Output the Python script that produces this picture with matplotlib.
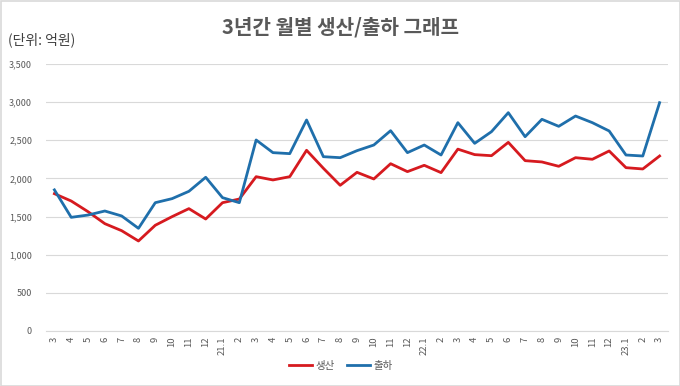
import matplotlib
matplotlib.use("Agg")
import matplotlib.pyplot as plt
from matplotlib.patches import Rectangle

plt.rcParams['font.family'] = ['Noto Sans CJK KR', 'DejaVu Sans']

labels = ["3", "4", "5", "6", "7", "8", "9", "10", "11", "12",
          "21.1", "2", "3", "4", "5", "6", "7", "8", "9", "10", "11", "12",
          "22.1", "2", "3", "4", "5", "6", "7", "8", "9", "10", "11", "12",
          "23.1", "2", "3"]
production = [1800, 1704, 1564, 1407, 1315, 1180, 1386, 1499, 1604, 1468,
              1682, 1730, 2023, 1980, 2023, 2369, 2133, 1910, 2080, 1993,
              2193, 2089, 2172, 2076, 2384, 2312, 2298, 2473, 2233, 2216,
              2159, 2272, 2251, 2360, 2141, 2124, 2294]
shipment = [1850, 1490, 1520, 1573, 1508, 1346, 1682, 1735, 1831, 2015,
            1748, 1682, 2504, 2338, 2325, 2766, 2285, 2272, 2364, 2438,
            2626, 2338, 2438, 2307, 2731, 2460, 2613, 2862, 2547, 2775,
            2683, 2818, 2731, 2622, 2307, 2294, 2993]
yticks = [0, 500, 1000, 1500, 2000, 2500, 3000, 3500]

RED = "#D61A1F"
BLUE = "#1F6FAB"
TXT = "#595959"

fig = plt.figure(figsize=(6.8, 3.86), dpi=100)
ax = fig.add_axes([46/680, (386-331)/386, (668-46)/680, (331-64)/386])

x = list(range(len(labels)))
l1, = ax.plot(x, production, color=RED, lw=2.0, solid_joinstyle='round', label="생산")
l2, = ax.plot(x, shipment, color=BLUE, lw=2.0, solid_joinstyle='round', label="출하")

ax.set_xlim(-0.5, len(labels) - 0.5)
ax.set_ylim(0, 3500)
ax.set_yticks(yticks)
ax.set_yticklabels([f"{v:,}" for v in yticks], fontsize=6.5, color=TXT)
ax.set_xticks(x)
ax.set_xticklabels(labels, rotation=90, fontsize=6.8, color=TXT)
ax.tick_params(axis='both', length=0, pad=4)
ax.tick_params(axis='y', pad=10)
ax.grid(axis='y', color="#D9D9D9", lw=0.8)
ax.set_axisbelow(True)
for s in ['top', 'right', 'left']:
    ax.spines[s].set_visible(False)
ax.spines['bottom'].set_color("#D9D9D9")
ax.spines['bottom'].set_linewidth(0.8)

fig.text(0.5, 1 - 27/386, "3년간 월별 생산/출하 그래프", ha='center', va='center',
         fontsize=14.5, fontweight='bold', color=TXT)
fig.text(8/680, 1 - 40/386, "(단위: 억원)", ha='left', va='center',
         fontsize=10, color="#404040")

fig.legend(handles=[l1, l2], loc='center', bbox_to_anchor=(341/680, 1 - 366/386),
           ncol=2, frameon=False, fontsize=7.5, handlelength=2.2,
           handletextpad=0.3, columnspacing=1.2, labelcolor=TXT)

fig.patches.append(Rectangle((0.5/680, 0.5/386), 679/680, 385/386, transform=fig.transFigure,
                             fill=False, edgecolor="#D9D9D9", lw=1.2))

fig.savefig("out.png", dpi=100, facecolor="white")
